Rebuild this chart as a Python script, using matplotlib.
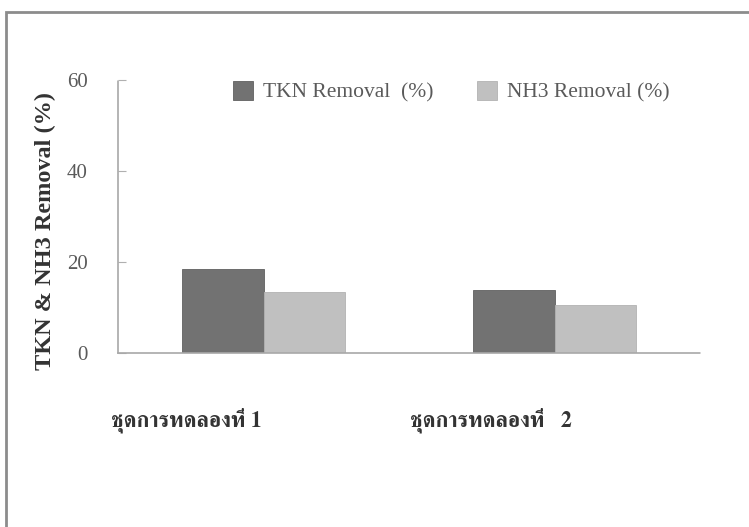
import matplotlib
matplotlib.use("Agg")
import matplotlib.pyplot as plt
import matplotlib.transforms as mtransforms
from matplotlib.patches import Rectangle
import numpy as np

# ---------------------------------------------------------
#  Data
# ---------------------------------------------------------
groups = ["ชุดการทดลองที่ 1", "ชุดการทดลองที่   2"]
tkn_removal = [18.5, 13.8]
nh3_removal = [13.4, 10.6]
series_names = ["TKN Removal  (%)", "NH3 Removal (%)"]
y_ticks = [0, 20, 40, 60]

LATIN = ["Liberation Serif", "FreeSerif"]
THAI = ["FreeSerif"]
TKN_COLOR = "#727272"
NH3_COLOR = "#c0c0c0"
GRAY_TEXT = "#5a5a5a"

W, H = 749, 527
fig = plt.figure(figsize=(W / 100, H / 100), dpi=100)
ax = fig.add_axes([118 / W, 1 - 353 / H, (700 - 118) / W, (353 - 80) / H])

x = np.arange(len(groups))
width = 0.28
ax.bar(x - width / 2, tkn_removal, width=width, color=TKN_COLOR,
       edgecolor="#606060", linewidth=0.6, label=series_names[0])
ax.bar(x + width / 2, nh3_removal, width=width, color=NH3_COLOR,
       edgecolor="#b2b2b2", linewidth=0.6, label=series_names[1])

ax.set_xlim(-0.5, 1.5)
ax.set_ylim(0, 60)
ax.set_yticks(y_ticks)
ax.set_yticklabels([str(v) for v in y_ticks], family=LATIN, fontsize=15,
                   color=GRAY_TEXT)
ax.tick_params(axis="y", direction="in", length=6, width=0.8,
               color="#b0b0b0", pad=22)

ax.set_xticks(x)
ax.set_xticklabels(groups, family=THAI, fontweight="bold", fontsize=15.7,
                   color="#333333")
ax.tick_params(axis="x", length=0, pad=39)
offsets = [-77, -64]
for lab, dx in zip(ax.get_xticklabels(), offsets):
    lab.set_transform(lab.get_transform() +
                      mtransforms.ScaledTranslation(dx / 100, 0, fig.dpi_scale_trans))

for side in ("top", "right"):
    ax.spines[side].set_visible(False)
for side in ("left", "bottom"):
    ax.spines[side].set_color("#a8a8a8")
    ax.spines[side].set_linestyle((0, (1, 1)))
    ax.spines[side].set_linewidth(1.2)

ax.set_ylabel("TKN & NH3 Removal (%)", family=LATIN, fontweight="bold",
              fontsize=17.5, color="#333333")
ax.yaxis.set_label_coords(-0.106, 0.447)

ax.legend(loc="center left", bbox_to_anchor=(233 / W, 1 - 92 / H),
          bbox_transform=fig.transFigure, ncol=2, frameon=False,
          prop={"family": LATIN, "size": 15.5}, labelcolor=GRAY_TEXT,
          handlelength=0.95, handleheight=0.95, handletextpad=0.45,
          columnspacing=2.0, borderpad=0, borderaxespad=0)

# outer frame of the scanned figure
fig.patches.append(Rectangle((6 / W, -0.1), 1.2, 1.1 - 12 / H,
                             transform=fig.transFigure, fill=False,
                             edgecolor="#8c8c8c", linewidth=2))

fig.savefig("out.png", dpi=100)
